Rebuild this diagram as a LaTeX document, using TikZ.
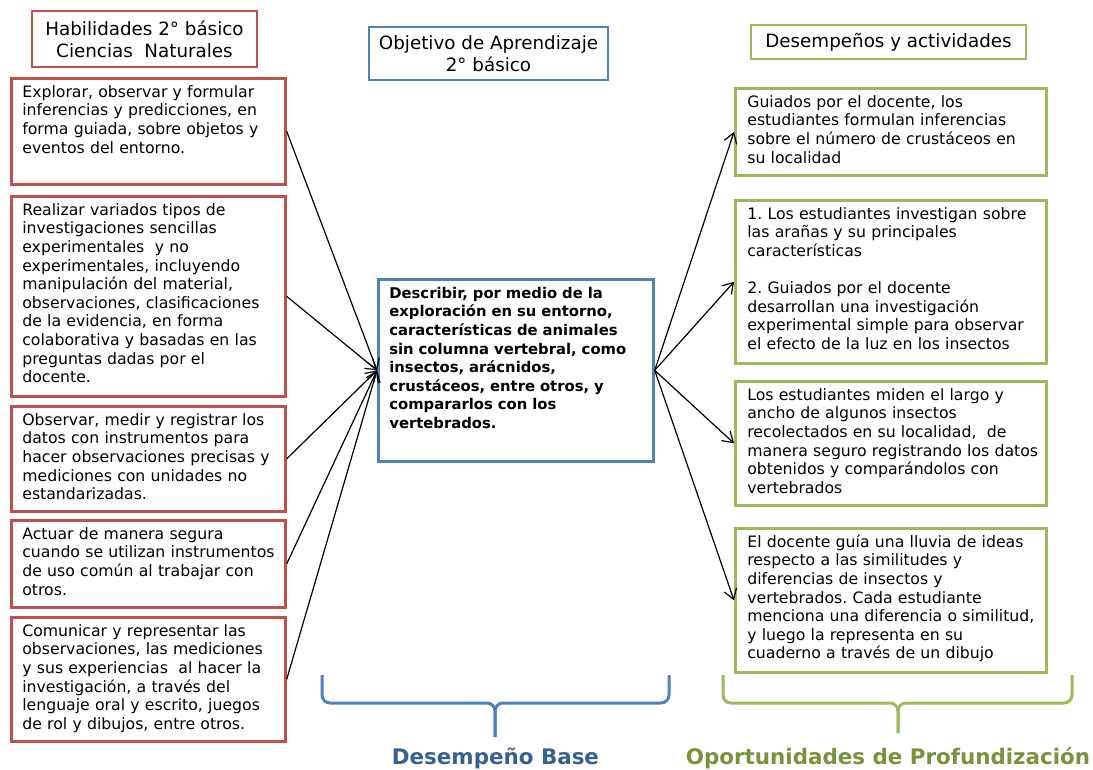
\documentclass[tikz,border=0pt]{standalone}
\usepackage{fontspec}
\setmainfont{DejaVu Sans}
\usetikzlibrary{arrows.meta}
\definecolor{rojohab}{HTML}{C0504D}
\definecolor{azulobj}{HTML}{4F81BD}
\definecolor{verdeact}{HTML}{9BBB59}
\definecolor{azultexto}{HTML}{376092}
\definecolor{verdetexto}{HTML}{77933C}
\newcommand{\caja}[2]{\vtop to #1{\hbox{\begin{tabular}[t]{@{}l@{}}#2\end{tabular}}\vfil}}
\frenchspacing

\begin{document}
\begin{tikzpicture}
  [x=1pt, y=-1pt,
  every node/.style={font=\fontsize{15.7}{18.6}\selectfont}]
  \tikzset{
    base/.style={
      rectangle, line width=2.7pt,
      anchor=north west, inner ysep=6pt,
      align=left,
    },
    habilidad/.style={
      base, draw=rojohab,
      text width=252pt, inner xsep=11pt,
    },
    objetivo/.style={
      base, draw=azulobj,
      text width=253pt, inner xsep=11pt,
      font=\fontsize{14.8}{18.6}\selectfont\bfseries,
    },
    actividad/.style={
      base, draw=verdeact,
      text width=287pt, inner xsep=12pt,
    },
    titulo/.style={
      rectangle, line width=2.7pt,
      align=center,
      font=\fontsize{18.3}{22}\selectfont,
    },
    flecha/.style={-{Straight Barb[length=10pt,width=13pt]}, line width=1.2pt, draw},
    llave/.style={line width=3pt, rounded corners=8pt},
    etiqueta/.style={anchor=base, font=\fontsize{21.4}{24}\selectfont\bfseries},
  }

  \useasboundingbox (0,0) rectangle (1093,770);

  \node[titulo, draw=rojohab, minimum width=225pt, minimum height=56pt] (habtit) at (144.5,39)
    {Habilidades 2° básico\\Ciencias~ Naturales};
  \node[titulo, draw=azulobj, minimum width=239pt, minimum height=53pt] (objtit) at (488.5,53.5)
    {Objetivo de Aprendizaje\\2° básico};
  \node[titulo, draw=verdeact, minimum width=275pt, minimum height=34pt] (acttit) at (888.5,42)
    {Desempeños y actividades};

  \node[habilidad] (hab1) at (10,77) {\caja{94pt}{Explorar, observar y formular\\
    inferencias y predicciones, en\\forma guiada, sobre objetos y\\eventos del entorno.}};
  \node[habilidad] (hab2) at (10,195) {\caja{188pt}{Realizar variados tipos de\\
    investigaciones sencillas\\experimentales~ y no\\experimentales, incluyendo\\
    manipulación del material,\\observaciones, clasificaciones\\de la evidencia, en forma\\
    colaborativa y basadas en las\\preguntas dadas por el\\docente.}};
  \node[habilidad] (hab3) at (10,405) {\caja{93pt}{Observar, medir y registrar los\\
    datos con instrumentos para\\hacer observaciones precisas y\\mediciones con unidades no\\
    estandarizadas.}};
  \node[habilidad] (hab4) at (10,519) {\caja{75pt}{Actuar de manera segura\\
    cuando se utilizan instrumentos\\de uso común al trabajar con\\otros.}};
  \node[habilidad] (hab5) at (10,616) {\caja{112pt}{Comunicar y representar las\\
    observaciones, las mediciones\\y sus experiencias~ al hacer la\\investigación, a través del\\
    lenguaje oral y escrito, juegos\\de rol y dibujos, entre otros.}};

  \node[objetivo] (obj) at (377,278) {\caja{170pt}{Describir, por medio de la\\
    exploración en su entorno,\\características de animales\\sin columna vertebral, como\\
    insectos, arácnidos,\\crustáceos, entre otros, y\\compararlos con los\\vertebrados.}};

  \node[actividad] (act1) at (734,87) {\caja{75pt}{Guiados por el docente, los\\
    estudiantes formulan inferencias\\sobre el número de crustáceos en\\su localidad}};
  \node[actividad] (act2) at (734,199) {\caja{151pt}{1. Los estudiantes investigan sobre\\
    las arañas y su principales\\características\\ \\2. Guiados por el docente\\
    desarrollan una investigación\\experimental simple para observar\\
    el efecto de la luz en los insectos}};
  \node[actividad] (act3) at (734,380) {\caja{112pt}{Los estudiantes miden el largo y\\
    ancho de algunos insectos\\recolectados en su localidad,~ de\\
    manera seguro registrando los datos\\obtenidos y comparándolos con\\vertebrados}};
  \node[actividad] (act4) at (734,527) {\caja{132pt}{El docente guía una lluvia de ideas\\
    respecto a las similitudes y\\diferencias de insectos y\\vertebrados. Cada estudiante\\
    menciona una diferencia o similitud,\\y luego la representa en su\\
    cuaderno a través de un dibujo}};

  \foreach \h in {hab1,hab2,hab3,hab4,hab5}
    \draw[flecha] (\h.east) -- (obj.west);
  \foreach \a in {act1,act2,act3,act4}
    \draw[flecha] (obj.east) -- (\a.west);

  \draw[llave, azulobj] (322,675) -- (322,703) -- (495,703) -- (495,737);
  \draw[llave, azulobj] (669,675) -- (669,703) -- (495,703) -- (495,737);
  \draw[llave, verdeact] (723,675) -- (723,703) -- (898,703) -- (898,733);
  \draw[llave, verdeact] (1072,675) -- (1072,703) -- (898,703) -- (898,733);

  \node[etiqueta, azultexto] (base) at (495.5,764) {Desempeño Base};
  \node[etiqueta, verdetexto] (prof) at (888,764) {Oportunidades de Profundización};
\end{tikzpicture}
\end{document}
